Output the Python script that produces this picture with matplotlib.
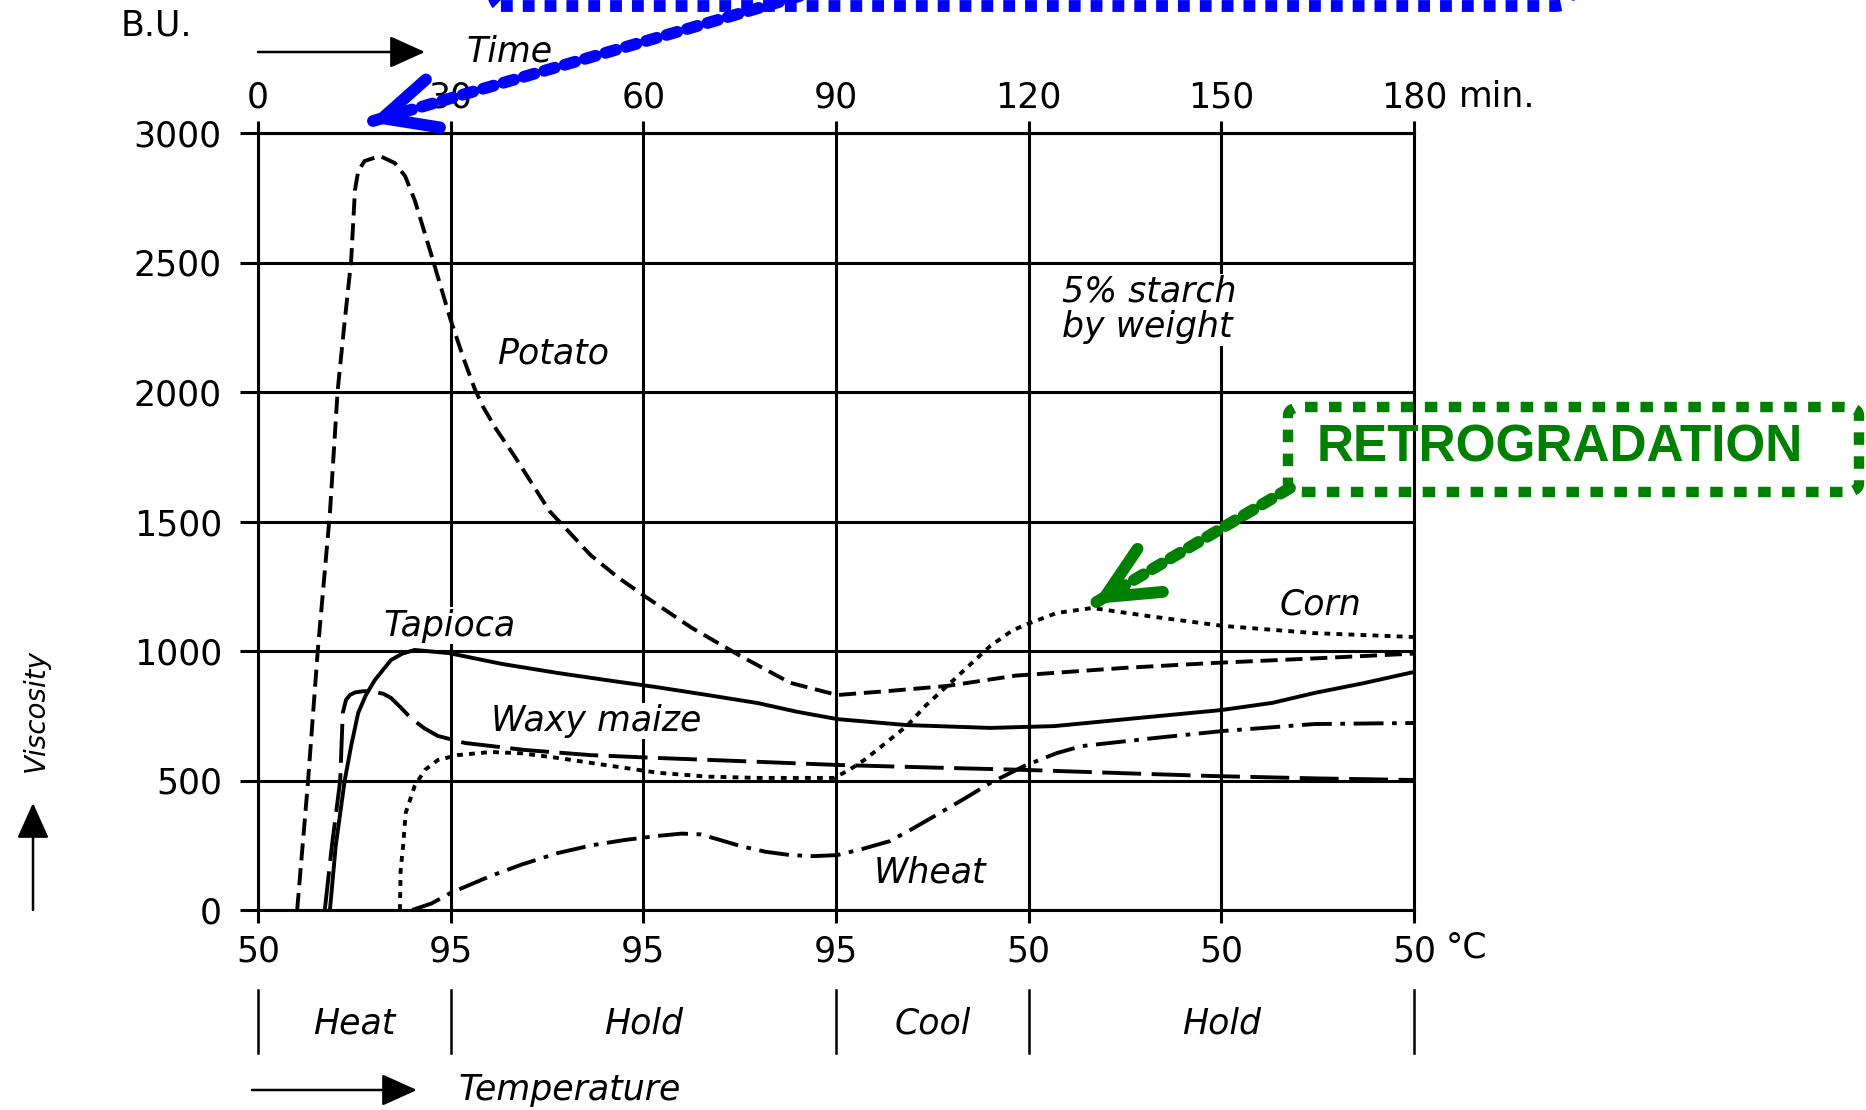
import numpy as np
import matplotlib
matplotlib.use("Agg")
import matplotlib.pyplot as plt
from matplotlib.patches import FancyBboxPatch, FancyArrowPatch
from matplotlib import transforms

# ---------------- data ----------------
time_ticks = [0, 30, 60, 90, 120, 150, 180]
time_labels = ["0", "30", "60", "90", "120", "150", "180"]
temp_labels = ["50", "95", "95", "95", "50", "50", "50"]
visc_ticks = [0, 500, 1000, 1500, 2000, 2500, 3000]
visc_labels = ["0", "500", "1000", "1500", "2000", "2500", "3000"]

phase_names = ["Heat", "Hold", "Cool", "Hold"]
phase_centers = [15, 60, 105, 150]
phase_bounds = [0, 30, 90, 120, 180]

potato_t = [6.1, 7.8, 9.3, 11.2, 12.4, 13.4, 14.5, 15.1, 15.6, 16.6, 19.0, 21.3, 22.9, 24.4,
            26.9, 30.0, 32.0, 33.7, 35.0, 37.0, 40.0, 45.4, 51.8, 56.0, 60.2, 67.5, 75.1, 82.9,
            90.2, 98.4, 107.3, 118.0, 135.0, 149.0, 165.0, 180.0]
potato_v = [0, 500, 1000, 1533, 2004, 2250, 2506, 2780, 2853, 2892, 2911, 2884, 2834, 2741,
            2537, 2278, 2130, 2015, 1945, 1860, 1750, 1540, 1370, 1285, 1212, 1090, 981, 877,
            830, 846, 865, 905, 935, 954, 972, 990]

tapioca_t = [11.2, 12.1, 13.5, 14.5, 15.6, 16.8, 18.2, 20.7, 22.5, 24.4, 29.7, 38.0, 46.7,
             55.0, 62.2, 70.0, 77.8, 84.0, 90.2, 101.0, 114.0, 124.0, 138.6, 150.0, 158.0,
             164.5, 172.0, 180.0]
tapioca_v = [0, 247, 500, 633, 761, 830, 888, 965, 990, 1004, 992, 950, 915,
             885, 860, 830, 799, 765, 737, 714, 703, 710, 745, 772, 800,
             838, 875, 919]

waxy_t = [10.4, 11.5, 12.8, 13.2, 13.7, 14.3, 15.1, 16.5, 18.1, 19.5, 20.7, 22.3, 23.8, 26.0,
          28.0, 32.2, 41.5, 51.8, 62.2, 75.0, 90.2, 105.0, 119.3, 135.0, 149.0, 165.0, 180.0]
waxy_v = [0, 247, 500, 761, 811, 830, 840, 845, 842, 835, 819, 780, 741, 700,
          672, 645, 618, 598, 587, 575, 560, 550, 541, 528, 517, 508, 502]

corn_t = [22.1, 22.2, 22.6, 23.0, 24.4, 26.0, 28.0, 31.1, 36.2, 41.0, 46.7, 54.0, 62.2, 70.0,
          77.8, 85.0, 89.7, 92.0, 94.4, 97.5, 101.0, 104.0, 107.3, 111.0, 114.0, 117.5,
          120.2, 124.4, 129.9, 138.6, 150.2, 164.5, 180.0]
corn_v = [0, 150, 250, 375, 479, 541, 579, 598, 610, 605, 587, 560, 530, 515,
          510, 510, 510, 540, 579, 640, 710, 790, 865, 950, 1019, 1080,
          1108, 1147, 1166, 1135, 1097, 1069, 1054]

wheat_t = [24.0, 27.0, 30.0, 36.2, 41.0, 46.7, 52.0, 57.0, 62.2, 66.0, 68.9, 72.0, 75.1, 79.0,
           82.9, 86.5, 90.2, 94.0, 98.4, 102.0, 106.2, 110.0, 114.0, 119.3, 124.4, 128.3,
           140.0, 150.2, 164.5, 180.0]
wheat_v = [0, 25, 66, 131, 175, 220, 250, 270, 286, 295, 292, 270, 247, 225,
           212, 208, 212, 235, 266, 315, 375, 430, 490, 556, 606, 633,
           665, 691, 718, 722]

# ---------------- figure ----------------
plt.rcParams["font.family"] = ["DejaVu Sans"]
W, H = 1866, 1110
fig = plt.figure(figsize=(W / 100, H / 100), dpi=100)
fig.patch.set_facecolor("white")
ax = fig.add_axes([258 / W, 1 - 910 / H, (1414 - 258) / W, (910 - 133) / H])

LW = 2.2
CLW = 2.8
FS = 25
ax.set_xlim(0, 180)
ax.set_ylim(0, 3000)
ax.set_xticks(time_ticks, temp_labels)
ax.set_yticks(visc_ticks, visc_labels)
ax.grid(True, color="black", lw=LW, zorder=0)
ax.set_axisbelow(True)
for s in ax.spines.values():
    s.set_linewidth(LW)
ax.tick_params(axis="x", direction="out", length=9.5, width=LW, pad=8, labelsize=FS)
ax.tick_params(axis="y", direction="out", length=13, width=LW, pad=13, labelsize=FS)

sec = ax.secondary_xaxis("top")
sec.set_xticks(time_ticks, time_labels)
sec.tick_params(direction="out", length=9, width=LW, pad=4, labelsize=FS)
sec.spines["top"].set_linewidth(LW)

# curves
ax.plot(potato_t, potato_v, color="black", lw=CLW, dashes=(4.4, 2.0), zorder=3)
ax.plot(tapioca_t, tapioca_v, color="black", lw=CLW, zorder=3)
ax.plot(waxy_t, waxy_v, color="black", lw=CLW, dashes=(10, 2.7), zorder=3)
ax.plot(corn_t, corn_v, color="black", lw=CLW, dashes=(1.5, 1.6), zorder=3)
ax.plot(wheat_t, wheat_v, color="black", lw=CLW, dashes=(7.7, 2.2, 1.2, 2.2), zorder=3)

lbl = dict(style="italic", fontsize=FS, ha="center", va="center", zorder=2,
           bbox=dict(facecolor="white", edgecolor="none", pad=1))
ax.text(45.9, 2150, "Potato", **lbl)
ax.text(29.9, 1097, "Tapioca", **lbl)
ax.text(52.6, 730, "Waxy maize", **lbl)
ax.text(104.7, 143, "Wheat", **lbl)
ax.text(165.5, 1178, "Corn", **lbl)
ax.text(125.2, 2318, "5% starch\nby weight", style="italic", fontsize=FS, ha="left",
        va="center", linespacing=1.05, zorder=2,
        bbox=dict(facecolor="white", edgecolor="none", pad=1))

# axis end labels
ax.annotate("min.", xy=(180, 3000), xytext=(32, 26), textcoords="offset points",
            fontsize=FS, ha="left", va="center", annotation_clip=False)
ax.annotate("°C", xy=(180, 0), xytext=(23, -27), textcoords="offset points",
            fontsize=FS, ha="left", va="center", annotation_clip=False)

fig.text(121 / W, 1 - 25 / H, "B.U.", fontsize=FS, ha="left", va="center")

arrow_kw = dict(transform=fig.transFigure, arrowstyle="-|>,head_length=1.0,head_width=0.45",
                mutation_scale=22, lw=1.8, color="black", shrinkA=0, shrinkB=0)
# Time arrow
fig.add_artist(FancyArrowPatch((258 / W, 1 - 52 / H), (425 / W, 1 - 52 / H), **arrow_kw))
fig.text(466 / W, 1 - 52 / H, "Time", style="italic", fontsize=FS, ha="left", va="center")

# Temperature arrow
fig.add_artist(FancyArrowPatch((252 / W, 1 - 1090 / H), (417 / W, 1 - 1090 / H), **arrow_kw))
fig.text(458 / W, 1 - 1090 / H, "Temperature", style="italic", fontsize=FS, ha="left", va="center")

# Viscosity
fig.add_artist(FancyArrowPatch((33 / W, 1 - 910 / H), (33 / W, 1 - 803 / H), **arrow_kw))
fig.text(36 / W, 1 - 710 / H, "Viscosity", style="italic", fontsize=20, rotation=90,
         ha="center", va="center")

# phase bar
tr = transforms.blended_transform_factory(ax.transData, fig.transFigure)
for b in phase_bounds:
    ax.plot([b, b], [1 - 1053 / H, 1 - 990 / H], transform=tr, color="black", lw=1.8, clip_on=False)
for name, c in zip(phase_names, phase_centers):
    ax.text(c, 1 - 1023 / H, name, transform=tr, style="italic", fontsize=FS, ha="center", va="center")

# ---------------- callouts ----------------
BLUE = "#0000FF"
GREEN = "#008000"


def callout(tip_data, start_fig, color):
    tip_px = ax.transData.transform(tip_data)
    start_px = fig.transFigure.transform(start_fig)
    d = start_px - tip_px
    u = d / np.linalg.norm(d)
    inv = fig.transFigure.inverted()
    tip_f = inv.transform(tip_px)
    base_f = inv.transform(tip_px + u * 4)
    shaft_end = inv.transform(tip_px + u * 14)
    fig.add_artist(FancyArrowPatch(tuple(start_fig), tuple(shaft_end), transform=fig.transFigure,
                                   arrowstyle="-", lw=8.5, linestyle=(0, (0.95, 0.85)),
                                   color=color, shrinkA=0, shrinkB=0))
    fig.add_artist(FancyArrowPatch(tuple(base_f), tuple(tip_f), transform=fig.transFigure,
                                   arrowstyle="->,head_length=1.9,head_width=0.9", mutation_scale=20,
                                   lw=8.5, color=color, capstyle="round", joinstyle="round",
                                   shrinkA=0, shrinkB=0))


# blue box (only its lower edge is inside the picture)
fig.add_artist(FancyBboxPatch((486 / W, 1 - 6 / H), (1569 - 486) / W, 0.1,
                              boxstyle="round,pad=0,rounding_size=0.008", transform=fig.transFigure,
                              fill=False, edgecolor=BLUE, lw=8.5, linestyle=(0, (1.0, 0.85)),
                              clip_on=False))
callout((17.3, 3042), (820 / W, 1 + 10 / H), BLUE)

# green box
fig.add_artist(FancyBboxPatch((1288 / W, 1 - 492 / H), (1859 - 1288) / W, (492 - 407) / H,
                              boxstyle="round,pad=0,rounding_size=0.008", transform=fig.transFigure,
                              fill=False, edgecolor=GREEN, lw=7.5, linestyle=(0, (1.2, 1.1))))
fig.text(1560 / W, 1 - 448 / H, "RETROGRADATION", color=GREEN, fontsize=37, fontweight="bold",
         family=["Liberation Sans", "DejaVu Sans"], ha="center", va="center")
callout((130.0, 1181), (1290 / W, 1 - 488 / H), GREEN)

fig.savefig("out.png", dpi=100, facecolor="white")
